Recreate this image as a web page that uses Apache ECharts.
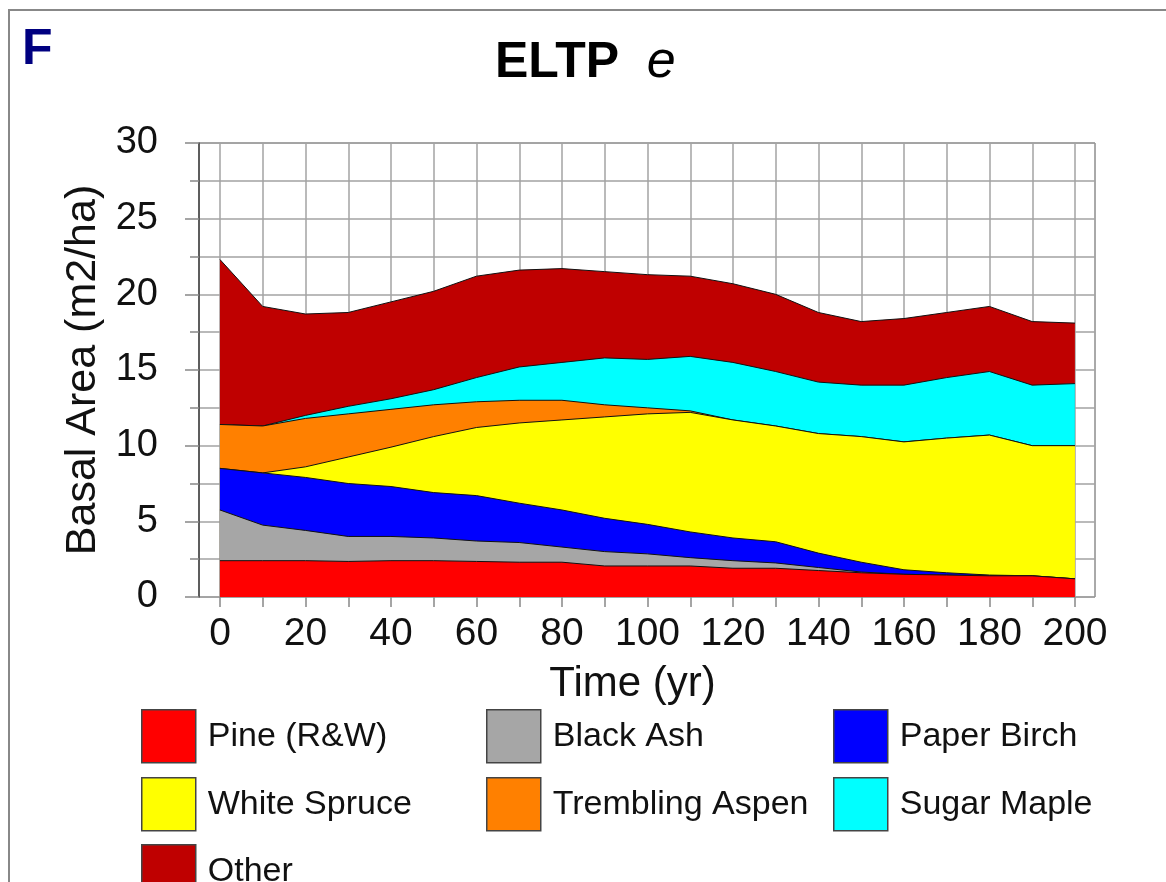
<!DOCTYPE html>
<html>
<head>
<meta charset="utf-8">
<script src="https://cdn.jsdelivr.net/npm/echarts@6/dist/echarts.min.js"></script>
<style>
  html, body { margin: 0; padding: 0; background: #fff; }
  #main { width: 1166px; height: 882px; }
</style>
</head>
<body>
<div id="main"></div>
<script>
// 数据（从图上读取，每个树种的基面积厚度）
const years = [0, 10, 20, 30, 40, 50, 60, 70, 80, 90, 100, 110, 120, 130, 140, 150, 160, 170, 180, 190, 200];
const pine = [2.4, 2.4, 2.4, 2.35, 2.4, 2.4, 2.35, 2.3, 2.3, 2.05, 2.05, 2.05, 1.9, 1.9, 1.75, 1.6, 1.5, 1.45, 1.4, 1.4, 1.2];
const blackAsh = [3.35, 2.35, 2.0, 1.65, 1.6, 1.5, 1.35, 1.3, 1.0, 0.95, 0.8, 0.55, 0.5, 0.35, 0.2, 0.05, 0, 0, 0, 0, 0];
const paperBirch = [2.75, 3.45, 3.5, 3.5, 3.3, 3.0, 3.0, 2.6, 2.45, 2.2, 1.95, 1.7, 1.5, 1.4, 0.95, 0.65, 0.3, 0.15, 0.05, 0, 0];
const whiteSpruce = [0, 0, 0.7, 1.75, 2.6, 3.7, 4.5, 5.3, 5.95, 6.7, 7.3, 7.9, 7.8, 7.65, 7.9, 8.3, 8.45, 8.9, 9.25, 8.6, 8.8];
const tremblingAspen = [2.9, 3.1, 3.2, 2.85, 2.5, 2.1, 1.7, 1.5, 1.3, 0.8, 0.4, 0.1, 0, 0, 0, 0, 0, 0, 0, 0, 0];
const sugarMaple = [0, 0, 0.2, 0.5, 0.7, 1.0, 1.6, 2.2, 2.5, 3.1, 3.2, 3.6, 3.8, 3.6, 3.4, 3.4, 3.75, 4.0, 4.2, 4.0, 4.1];
const other = [10.9, 7.9, 6.7, 6.2, 6.4, 6.5, 6.7, 6.4, 6.2, 5.7, 5.6, 5.3, 5.2, 5.1, 4.6, 4.2, 4.4, 4.3, 4.3, 4.2, 4.0];

const speciesNames = ['Pine (R&W)', 'Black Ash', 'Paper Birch', 'White Spruce', 'Trembling Aspen', 'Sugar Maple', 'Other'];
const speciesValues = [pine, blackAsh, paperBirch, whiteSpruce, tremblingAspen, sugarMaple, other];
const speciesColors = ['#ff0000', '#a6a6a6', '#0000ff', '#ffff00', '#ff8000', '#00ffff', '#bf0000'];

// 图例位置：[名称, 列, 行]
const legendCells = [
    ['Pine (R&W)', 0, 0], ['Black Ash', 1, 0], ['Paper Birch', 2, 0],
    ['White Spruce', 0, 1], ['Trembling Aspen', 1, 1], ['Sugar Maple', 2, 1],
    ['Other', 0, 2]
];
const legendLeft = [136, 481, 828];
const legendTop = [704, 772, 839];

const font = 'Liberation Sans, Arial, sans-serif';
const gridLine = { color: '#a3a3a3', width: 1.5 };

let myChart = echarts.init(document.getElementById('main'));

// 累加得到每层的上边界，先画最上层，下层覆盖在上面
const cumulative = [];
speciesValues.forEach((vals, i) => {
    cumulative.push(vals.map((v, j) => (i > 0 ? cumulative[i - 1][j] : 0) + v));
});

const series = speciesNames.map((name, i) => ({
    name: name,
    type: 'line',
    xAxisIndex: 1,
    yAxisIndex: 1,
    z: 10 - i,
    symbol: 'none',
    data: years.map((y, j) => [y, +cumulative[i][j].toFixed(3)]),
    itemStyle: { color: speciesColors[i] },
    lineStyle: { color: '#111', width: 1 },
    areaStyle: { color: speciesColors[i], opacity: 1 },
    emphasis: { disabled: true }
}));

const legends = legendCells.map(([name, col, row]) => ({
    left: legendLeft[col],
    top: legendTop[row],
    data: [name],
    icon: 'rect',
    itemWidth: 54,
    itemHeight: 53,
    selectedMode: false,
    itemStyle: { borderColor: '#444', borderWidth: 1.5 },
    textStyle: { fontFamily: font, fontSize: 34, color: '#111', padding: [0, 0, 0, 7] }
}));

option = {
    backgroundColor: '#fff',
    animation: false,
    title: [
        {
            text: 'F',
            left: 17,
            top: 20,
            textStyle: { fontFamily: font, fontSize: 50, fontWeight: 'bold', color: '#000080' }
        },
        {
            text: '{a|ELTP  }{b|e}',
            left: 490,
            top: 32,
            textStyle: {
                rich: {
                    a: { fontFamily: font, fontSize: 50, fontWeight: 'bold', color: '#000' },
                    b: { fontFamily: font, fontSize: 52, fontWeight: 'normal', fontStyle: 'italic', color: '#000' }
                }
            }
        }
    ],
    graphic: [{
        type: 'rect',
        shape: { x: 9, y: 10, width: 1200, height: 900 },
        style: { fill: 'none', stroke: '#888', lineWidth: 2 },
        silent: true
    }],
    legend: legends,
    grid: [
        // 背景网格：x 轴刻度与竖线
        { left: 220, right: 91, top: 143, bottom: 285 },
        // 数据网格
        { left: 199, right: 71, top: 143, bottom: 285, show: true, borderColor: '#555', borderWidth: 1 }
    ],
    xAxis: [
        {
            type: 'value',
            gridIndex: 0,
            min: 0,
            max: 200,
            interval: 10,
            name: 'Time (yr)',
            nameLocation: 'middle',
            nameGap: 66,
            nameTextStyle: { fontFamily: font, fontSize: 42, color: '#111', padding: [0, 30, 0, 0] },
            axisLine: { show: false },
            axisTick: { show: true, length: 10, lineStyle: { color: '#888', width: 1.5 } },
            axisLabel: {
                fontFamily: font,
                fontSize: 39,
                color: '#111',
                margin: 18,
                formatter: v => (v % 20 === 0 ? String(v) : '')
            },
            splitLine: { show: true, lineStyle: gridLine }
        },
        {
            type: 'value',
            gridIndex: 1,
            min: -4.9,
            max: 204.7,
            show: false
        }
    ],
    yAxis: [
        { type: 'value', gridIndex: 0, min: 0, max: 30, show: false },
        {
            type: 'value',
            gridIndex: 1,
            min: 0,
            max: 30,
            interval: 5,
            name: 'Basal Area (m2/ha)',
            nameLocation: 'middle',
            nameGap: 92,
            nameTextStyle: { fontFamily: font, fontSize: 43, color: '#111' },
            axisLine: { show: true, onZero: false, lineStyle: { color: '#444', width: 1.5 } },
            axisTick: { show: true, length: 14, lineStyle: { color: '#888', width: 1.5 } },
            minorTick: { show: true, splitNumber: 2, length: 9, lineStyle: { color: '#888', width: 1.5 } },
            axisLabel: { fontFamily: font, fontSize: 38, color: '#111', margin: 41 },
            splitLine: { show: true, lineStyle: gridLine },
            minorSplitLine: { show: true, lineStyle: gridLine }
        }
    ],
    series: series
};

myChart.setOption(option);
</script>
</body>
</html>
